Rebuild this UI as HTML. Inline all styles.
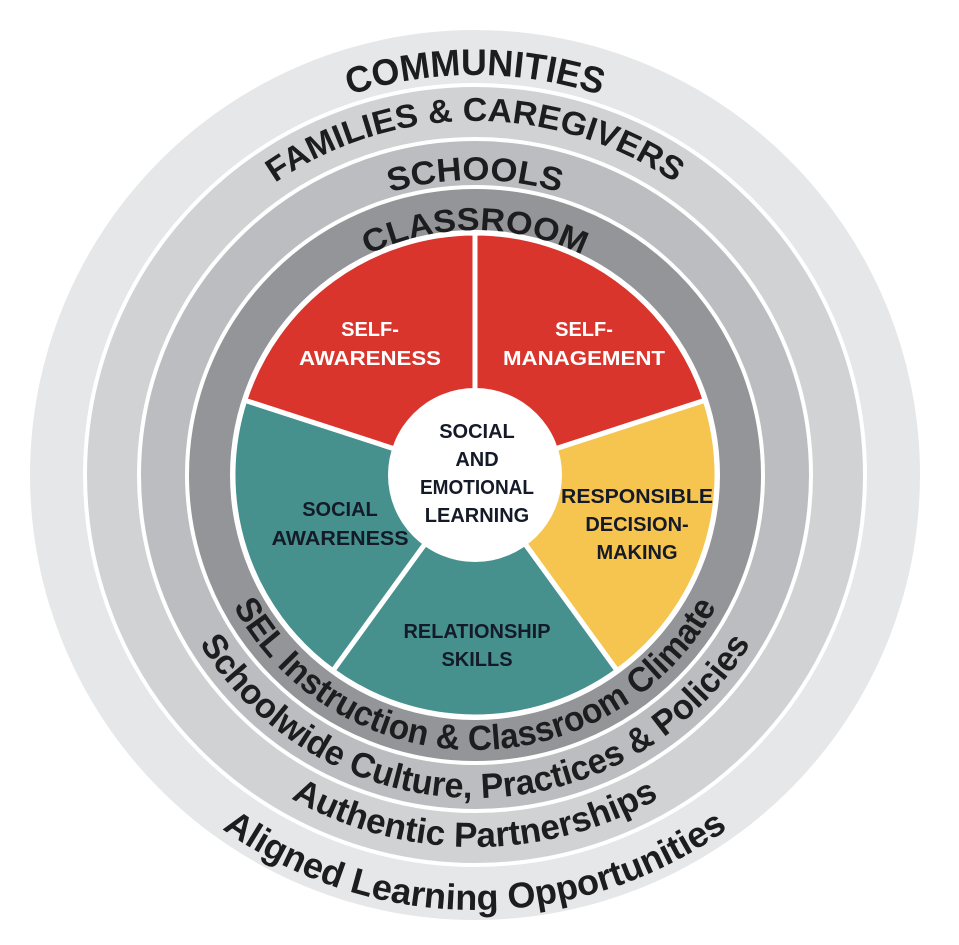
<!DOCTYPE html>
<html><head><meta charset="utf-8"><style>
html,body{margin:0;padding:0;background:#fff;width:959px;height:945px;overflow:hidden}
svg{display:block}
text{font-family:"Liberation Sans",sans-serif;font-weight:bold}
</style></head><body>
<svg width="959" height="945" viewBox="0 0 959 945" xmlns="http://www.w3.org/2000/svg">
<defs>
<path id="tC" d="M 75 475 A 400 400 0 0 1 875 475"/>
<path id="tF" d="M 121 475 A 354 354 0 0 1 829 475"/>
<path id="tS" d="M 180 475 A 295 295 0 0 1 770 475"/>
<path id="tR" d="M 230 475 A 245 245 0 0 1 720 475"/>
<path id="bS" d="M 200 475 A 275 275 0 0 0 750 475"/>
<path id="bW" d="M 152 475 A 323 323 0 0 0 798 475"/>
<path id="bA" d="M 103 475 A 372 372 0 0 0 847 475"/>
<path id="bL" d="M 40 475 A 435 435 0 0 0 910 475"/>
</defs>
<circle cx="475" cy="475" r="445" fill="#e6e7e8"/>
<circle cx="475" cy="475" r="390" fill="#d1d2d4" stroke="#fff" stroke-width="4"/>
<circle cx="475" cy="475" r="336" fill="#bcbdc0" stroke="#fff" stroke-width="4"/>
<circle cx="475" cy="475" r="288" fill="#939598" stroke="#fff" stroke-width="4"/>
<circle cx="475" cy="475" r="245" fill="#fff"/>
<g stroke="#fff" stroke-width="5" stroke-linejoin="round">
<path d="M475 475 L475 233 A242 242 0 0 1 705.2 400.2 Z" fill="#d9352d"/>
<path d="M475 475 L705.2 400.2 A242 242 0 0 1 617.2 670.8 Z" fill="#f6c54f"/>
<path d="M475 475 L617.2 670.8 A242 242 0 0 1 332.8 670.8 Z" fill="#46918e"/>
<path d="M475 475 L332.8 670.8 A242 242 0 0 1 244.8 400.2 Z" fill="#46918e"/>
<path d="M475 475 L244.8 400.2 A242 242 0 0 1 475 233 Z" fill="#d9352d"/>
</g>
<circle cx="475" cy="475" r="87" fill="#fff"/>
<g fill="#1d1d1f">
<text font-size="37"><textPath href="#tC" startOffset="50%" text-anchor="middle" textLength="255" lengthAdjust="spacingAndGlyphs">COMMUNITIES</textPath></text>
<text font-size="33"><textPath href="#tF" startOffset="50%" text-anchor="middle" textLength="425" lengthAdjust="spacingAndGlyphs">FAMILIES &amp; CAREGIVERS</textPath></text>
<text font-size="33"><textPath href="#tS" startOffset="50%" text-anchor="middle" textLength="172" lengthAdjust="spacingAndGlyphs">SCHOOLS</textPath></text>
<text font-size="32"><textPath href="#tR" startOffset="50%" text-anchor="middle" textLength="222" lengthAdjust="spacingAndGlyphs">CLASSROOM</textPath></text>
<text font-size="35"><textPath href="#bS" startOffset="50%" text-anchor="middle" textLength="590" lengthAdjust="spacingAndGlyphs">SEL Instruction &amp; Classroom Climate</textPath></text>
<text font-size="35"><textPath href="#bW" startOffset="50%" text-anchor="middle" textLength="660" lengthAdjust="spacingAndGlyphs">Schoolwide Culture, Practices &amp; Policies</textPath></text>
<text font-size="35"><textPath href="#bA" startOffset="50%" text-anchor="middle" textLength="385" lengthAdjust="spacingAndGlyphs">Authentic Partnerships</textPath></text>
<text font-size="36"><textPath href="#bL" startOffset="50%" text-anchor="middle" textLength="540" lengthAdjust="spacingAndGlyphs">Aligned Learning Opportunities</textPath></text>
</g>
<g font-size="20" text-anchor="middle">
<g fill="#fff">
<text x="370" y="336">SELF-</text><text x="370" y="365" textLength="142" lengthAdjust="spacingAndGlyphs">AWARENESS</text>
<text x="584" y="336">SELF-</text><text x="584" y="365" textLength="162" lengthAdjust="spacingAndGlyphs">MANAGEMENT</text>
</g>
<g fill="#141a28">
<text x="340" y="516">SOCIAL</text><text x="340" y="545" textLength="137" lengthAdjust="spacingAndGlyphs">AWARENESS</text>
<text x="477" y="638" textLength="147" lengthAdjust="spacingAndGlyphs">RELATIONSHIP</text><text x="477" y="666">SKILLS</text>
<text x="637" y="503" textLength="152" lengthAdjust="spacingAndGlyphs">RESPONSIBLE</text><text x="637" y="531">DECISION-</text><text x="637" y="559">MAKING</text>
<text x="477" y="438">SOCIAL</text><text x="477" y="466">AND</text><text x="477" y="494" textLength="114" lengthAdjust="spacingAndGlyphs">EMOTIONAL</text><text x="477" y="522">LEARNING</text>
</g>
</g>
</svg>
</body></html>
